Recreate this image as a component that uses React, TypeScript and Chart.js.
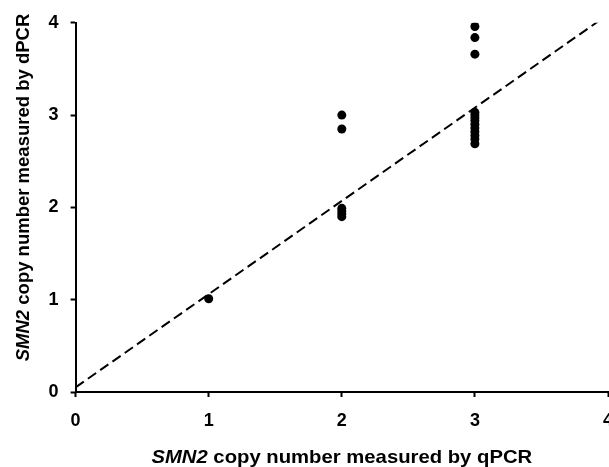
import React, { useEffect, useRef } from "react";
import { Chart, registerables } from "chart.js";

Chart.register(...registerables);

// x = qPCR copy number, y = dPCR copy number
const qpcr1 = [1];
const dpcr1 = [1.01];
const qpcr2 = [2, 2, 2, 2, 2, 2];
const dpcr2 = [3.0, 2.85, 1.99, 1.96, 1.93, 1.9];
const qpcr3 = [3, 3, 3, 3, 3, 3, 3, 3, 3, 3, 3, 3, 3];
const dpcr3 = [3.96, 3.84, 3.66, 3.03, 3.0, 2.97, 2.94, 2.9, 2.86, 2.82, 2.78, 2.74, 2.69];
const fitX = [0, 4];
const fitY = [0.05, 4.09];
const axisTicks = [0, 1, 2, 3, 4];

const xTitleItalic = "SMN2";
const xTitleRest = " copy number measured by qPCR";
const yTitleItalic = "SMN2";
const yTitleRest = " copy number measured by dPCR";

const FONT = "'Liberation Sans', Arial, sans-serif";

const titlePlugin = {
  id: "mixedTitles",
  afterDraw(chart: any) {
    const ctx = chart.ctx as CanvasRenderingContext2D;
    const area = chart.chartArea;
    const size = 18.5;
    const it = `italic bold ${size}px ${FONT}`;
    const bd = `bold ${size}px ${FONT}`;
    ctx.save();
    ctx.fillStyle = "#000";
    ctx.textBaseline = "alphabetic";
    ctx.textAlign = "left";
    // x title
    ctx.font = it;
    const w1 = ctx.measureText(xTitleItalic).width;
    ctx.font = bd;
    const w2 = ctx.measureText(xTitleRest).width;
    const stretch = 1.096;
    const cx = (area.left + area.right) / 2;
    ctx.save();
    ctx.translate(cx, 463);
    ctx.scale(stretch, 1);
    const start = -(w1 + w2) / 2;
    ctx.font = it;
    ctx.fillText(xTitleItalic, start, 0);
    ctx.font = bd;
    ctx.fillText(xTitleRest, start + w1, 0);
    ctx.restore();
    // y title
    ctx.font = it;
    const v1 = ctx.measureText(yTitleItalic).width;
    ctx.font = bd;
    const v2 = ctx.measureText(yTitleRest).width;
    ctx.save();
    ctx.translate(29, 187.5);
    ctx.rotate(-Math.PI / 2);
    const s2 = -(v1 + v2) / 2;
    ctx.font = it;
    ctx.fillText(yTitleItalic, s2, 0);
    ctx.font = bd;
    ctx.fillText(yTitleRest, s2 + v1, 0);
    ctx.restore();
    ctx.restore();
  },
};

export default function App() {
  const ref = useRef<HTMLCanvasElement | null>(null);
  useEffect(() => {
    if (!ref.current) return;
    const toPts = (xs: number[], ys: number[]) => xs.map((x, i) => ({ x, y: ys[i] }));
    const pointStyle = {
      pointRadius: 4.5,
      pointBackgroundColor: "#000",
      pointBorderColor: "#000",
      pointBorderWidth: 0,
      showLine: false,
    };
    const chart = new Chart(ref.current, {
      type: "scatter",
      data: {
        datasets: [
          {
            label: "fit",
            data: toPts(fitX, fitY),
            showLine: true,
            borderColor: "#000",
            borderWidth: 2,
            borderDash: [10, 5],
            pointRadius: 0,
          } as any,
          { label: "1", data: toPts(qpcr1, dpcr1), ...pointStyle } as any,
          { label: "2", data: toPts(qpcr2, dpcr2), ...pointStyle } as any,
          { label: "3", data: toPts(qpcr3, dpcr3), ...pointStyle } as any,
        ],
      },
      options: {
        animation: false,
        responsive: false,
        devicePixelRatio: 1,
        layout: { padding: { left: 0, top: 20.7, right: 32, bottom: 0 } },
        plugins: { legend: { display: false }, tooltip: { enabled: false } },
        scales: {
          x: {
            type: "linear",
            min: 0,
            max: 4,
            afterBuildTicks: (s: any) => {
              s.ticks = axisTicks.map((v) => ({ value: v }));
            },
            afterFit: (s: any) => {
              s.height = 75;
            },
            ticks: {
              color: "#000",
              font: { family: FONT, size: 18, weight: "bold" },
              padding: 13,
            },
            grid: {
              display: true,
              drawOnChartArea: false,
              drawTicks: true,
              tickLength: 5,
              tickWidth: 2,
              tickColor: "#000",
            },
            border: { display: true, color: "#000", width: 2 },
          },
          y: {
            type: "linear",
            min: 0,
            max: 4,
            afterBuildTicks: (s: any) => {
              s.ticks = axisTicks.map((v) => ({ value: v }));
            },
            afterFit: (s: any) => {
              s.width = 75.6;
            },
            ticks: {
              color: "#000",
              font: { family: FONT, size: 18, weight: "bold" },
              padding: 12,
            },
            grid: {
              display: true,
              drawOnChartArea: false,
              drawTicks: true,
              tickLength: 5,
              tickWidth: 2,
              tickColor: "#000",
            },
            border: { display: true, color: "#000", width: 2 },
          },
        },
      } as any,
      plugins: [titlePlugin],
    });
    return () => chart.destroy();
  }, []);
  return (
    <div
      style={{
        position: "fixed",
        left: 0,
        top: 0,
        width: 609,
        height: 467,
        overflow: "hidden",
        background: "#fff",
      }}
    >
      <canvas ref={ref} width={640} height={467} style={{ width: 640, height: 467, display: "block" }} />
    </div>
  );
}
